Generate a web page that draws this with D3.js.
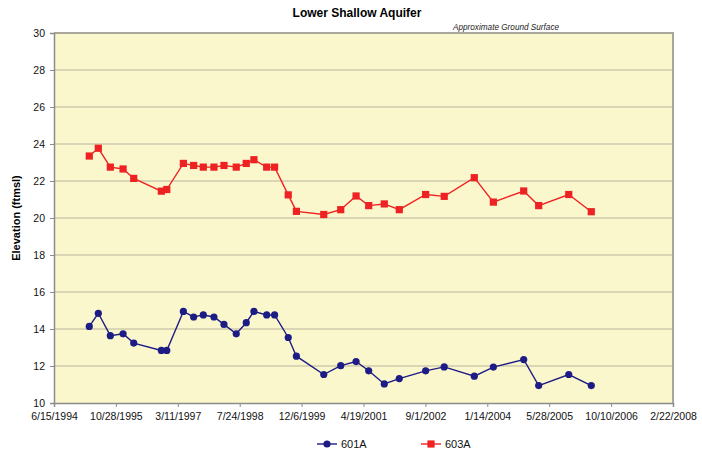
<!doctype html>
<html lang="en">
<head>
<meta charset="utf-8">
<title>Lower Shallow Aquifer</title>
<style>
  body { margin: 0; background: #fff; }
  svg { font-family: Arial, "Liberation Sans", sans-serif; }
  .tick text { font-size: 10.5px; fill: #111; }
</style>
</head>
<body>
<svg width="702" height="456"></svg>
<script src="https://d3js.org/d3.v7.min.js"></script>
<script>
// sample dates (shared by both wells)
var dates = ["1995-03-27","1995-06-08","1995-09-13","1995-12-25","1996-03-20","1996-10-29","1996-12-12",
  "1997-04-25","1997-07-17","1997-10-03","1997-12-28","1998-03-19","1998-06-26","1998-09-15","1998-11-16",
  "1999-02-27","1999-05-02","1999-08-20","1999-10-25","2000-06-02","2000-10-17","2001-02-18","2001-05-31",
  "2001-10-04","2002-02-02","2002-09-03","2003-01-31","2003-10-01","2004-03-03","2004-11-03","2005-03-04",
  "2005-11-02","2006-05-03"];

var well601A = [14.14,14.85,13.64,13.74,13.24,12.84,12.84,14.95,14.65,14.76,14.65,14.25,13.74,14.34,14.95,
  14.76,14.76,13.54,12.53,11.54,12.02,12.24,11.74,11.03,11.32,11.74,11.95,11.45,11.94,12.35,10.94,11.54,10.94];

var well603A = [23.35,23.77,22.75,22.65,22.14,21.45,21.54,22.95,22.84,22.75,22.75,22.84,22.75,22.95,23.15,
  22.75,22.75,21.25,20.36,20.19,20.45,21.19,20.67,20.76,20.45,21.27,21.17,22.18,20.86,21.46,20.67,21.27,20.34];

var xTickLabels = ["6/15/1994","10/28/1995","3/11/1997","7/24/1998","12/6/1999","4/19/2001",
  "9/1/2002","1/14/2004","5/28/2005","10/10/2006","2/22/2008"];
var yTicks = [10,12,14,16,18,20,22,24,26,28,30];

var parseIso = d3.timeParse("%Y-%m-%d");
var parseUs = d3.timeParse("%m/%d/%Y");
var fmtUs = function (d) { return (d.getMonth() + 1) + "/" + d.getDate() + "/" + d.getFullYear(); };

var svg = d3.select("svg");
var plotL = 54, plotR = 673, plotT = 33, plotB = 403;

var x = d3.scaleTime()
  .domain([parseUs(xTickLabels[0]), parseUs(xTickLabels[xTickLabels.length - 1])])
  .range([plotL, plotR]);
var y = d3.scaleLinear().domain([10, 30]).range([plotB, plotT]);

// plot background
svg.append("rect")
  .attr("x", plotL).attr("y", plotT)
  .attr("width", plotR - plotL).attr("height", plotB - plotT)
  .attr("fill", "#fbf7cd");

// gridlines
svg.append("g").selectAll("line")
  .data(yTicks.slice(1, -1))
  .enter().append("line")
  .attr("x1", plotL).attr("x2", plotR)
  .attr("y1", function (d) { return y(d); }).attr("y2", function (d) { return y(d); })
  .attr("stroke", "#b9b39c").attr("stroke-width", 1.2);

// border top & right
svg.append("path")
  .attr("d", "M" + plotL + "," + plotT + "H" + plotR + "V" + plotB)
  .attr("fill", "none").attr("stroke", "#a9a69c").attr("stroke-width", 2);

// axes
var yAxis = svg.append("g")
  .attr("transform", "translate(" + plotL + ",0)")
  .call(d3.axisLeft(y).tickValues(yTicks).tickSize(4).tickPadding(4));

var xAxis = svg.append("g")
  .attr("transform", "translate(0," + plotB + ")")
  .call(d3.axisBottom(x).tickValues(xTickLabels.map(parseUs)).tickFormat(fmtUs).tickSize(4).tickPadding(6));

svg.selectAll(".domain").attr("stroke", "#8c8c8c").attr("stroke-width", 1.5);
svg.selectAll(".tick line").attr("stroke", "#8c8c8c");
yAxis.selectAll(".tick text").attr("dx", "-1");

// series
var series = [
  { name: "601A", values: well601A, color: "#1c1c84", shape: "circle" },
  { name: "603A", values: well603A, color: "#ee2222", shape: "square" }
];

var line = d3.line()
  .x(function (d) { return x(d.date); })
  .y(function (d) { return y(d.v); });

function drawMarker(g, shape, color, cx, cy) {
  if (shape === "circle") {
    g.append("circle").attr("cx", cx).attr("cy", cy).attr("r", 3.6).attr("fill", color);
  } else {
    g.append("rect").attr("x", cx - 3.6).attr("y", cy - 3.6).attr("width", 7.2).attr("height", 7.2).attr("fill", color);
  }
}

series.forEach(function (s) {
  var pts = dates.map(function (d, i) { return { date: parseIso(d), v: s.values[i] }; });
  var g = svg.append("g");
  g.append("path").datum(pts).attr("d", line)
    .attr("fill", "none").attr("stroke", s.color).attr("stroke-width", 1.4);
  pts.forEach(function (p) { drawMarker(g, s.shape, s.color, x(p.date), y(p.v)); });
});

// title and labels
svg.append("text").attr("x", 357).attr("y", 17).attr("text-anchor", "middle")
  .attr("font-size", 12).attr("font-weight", "bold").text("Lower Shallow Aquifer");

svg.append("text").attr("x", 453).attr("y", 30)
  .attr("font-size", 8.2).attr("font-style", "italic").attr("fill", "#222")
  .text("Approximate Ground Surface");

svg.append("text")
  .attr("transform", "translate(20," + ((plotT + plotB) / 2) + ") rotate(-90)")
  .attr("text-anchor", "middle").attr("font-size", 11).attr("font-weight", "bold")
  .text("Elevation (ftmsl)");

// legend
var legend = svg.append("g");
series.forEach(function (s, i) {
  var lx = 317 + i * 104, ly = 444;
  legend.append("line").attr("x1", lx).attr("x2", lx + 20).attr("y1", ly).attr("y2", ly)
    .attr("stroke", s.color).attr("stroke-width", 1.4);
  drawMarker(legend, s.shape, s.color, lx + 10, ly);
  legend.append("text").attr("x", lx + 24).attr("y", ly + 4)
    .attr("font-size", 11).attr("fill", "#111").text(s.name);
});
</script>
</body>
</html>
